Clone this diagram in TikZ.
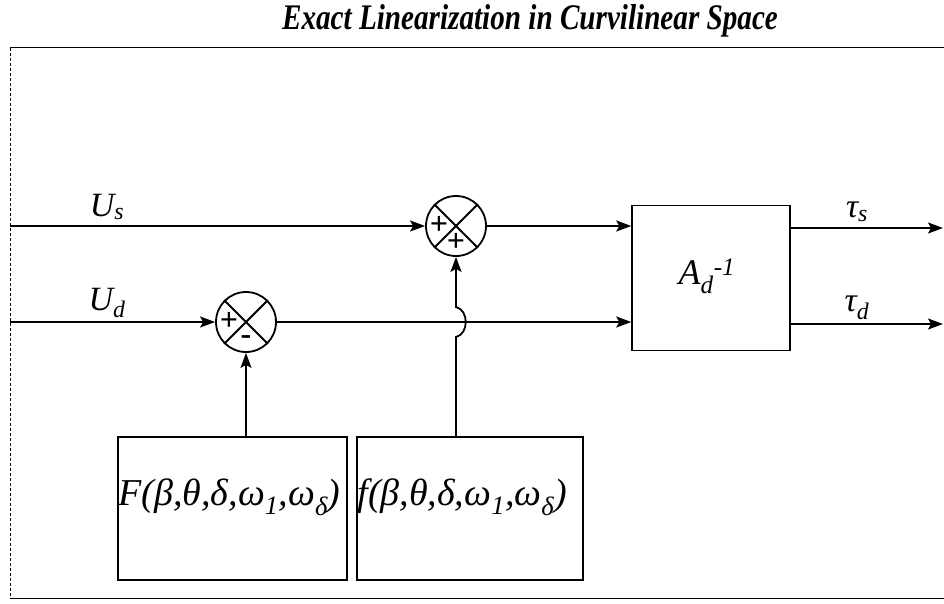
\documentclass[tikz,border=0pt]{standalone}
\usepackage{fontspec}
\setmainfont{Liberation Serif}
\usetikzlibrary{positioning,arrows.meta,calc}

\begin{document}
\begin{tikzpicture}[
    x=1pt, y=-1pt,
    font=\itshape,
    wire/.style={line width=1.8pt},
    sig/.style={wire, -{Stealth[length=15pt,width=11pt,inset=3pt]}},
    blk/.style={draw, line width=1.5pt, inner sep=0pt},
    sumnode/.style={draw, circle, line width=1.8pt, minimum size=60pt, inner sep=0pt},
    lbl/.style={font=\fontsize{34}{34}\selectfont\itshape},
    fn/.style={font=\fontsize{38}{38}\selectfont\itshape, inner sep=1pt},
    sgn/.style={font=\fontsize{32}{32}\selectfont\upshape\bfseries, inner sep=0pt}
  ]
  \useasboundingbox (0,0) rectangle (944,604);

  % title and frame
  \node[font=\fontsize{36}{36}\selectfont\bfseries\itshape] (title) at (530,21)
    {\scalebox{0.81}[1]{Exact Linearization in Curvilinear Space}};
  \draw[line width=1pt] (944,48) -- (10,48);
  \draw[line width=1pt, densely dashed] (10,48) -- (10,598);
  \draw[line width=1pt] (10,598) -- (944,598);

  % summing junctions
  \node[sumnode] (sumD) at (246,322) {};
  \node[sumnode] (sumS) at (456,226) {};
  \foreach \s in {sumD,sumS}
    \draw[wire] (\s.45) -- (\s.225) (\s.135) -- (\s.315);
  \node[sgn] at ([xshift=-17pt,yshift=1pt]sumD.center) {+};
  \node[sgn] at ([yshift=-18pt]sumD.center) {-};
  \node[sgn] at ([xshift=-17pt,yshift=1pt]sumS.center) {+};
  \node[sgn] at ([yshift=-16pt]sumS.center) {+};

  % blocks
  \node[blk, minimum width=158pt, minimum height=145pt] (inv) at (711,278) {};
  \node[font=\fontsize{36}{36}\selectfont\itshape] (invtxt) at ([xshift=-4pt,yshift=2pt]inv.center)
    {A\textsubscript{d}\textsuperscript{-1}};
  \node[blk, minimum width=229pt, minimum height=143pt] (Fbox) at (232.5,508.5) {};
  \node[blk, minimum width=226pt, minimum height=143pt] (fbox) at (470,508.5) {};
  \node[fn, anchor=west] (Ftxt) at ([yshift=11pt]Fbox.west)
    {F(β,θ,δ,ω\textsubscript{1},ω\textsubscript{δ})};
  \node[fn, anchor=west] (ftxt) at ([yshift=11pt]fbox.west)
    {f(β,θ,δ,ω\textsubscript{1},ω\textsubscript{δ})};

  % inputs and outputs
  \coordinate (inS) at (10,226);
  \coordinate (inD) at (10,322);
  \coordinate (outS) at (943,228);
  \coordinate (outD) at (943,324);
  \coordinate (hop) at (sumS |- sumD);

  \draw[sig] (inS) -- (sumS);
  \draw[sig] (inD) -- (sumD);
  \draw[sig] (sumS.east) -- (sumS.east -| inv.west);
  \draw[sig] (sumD.east) -- (sumD.east -| inv.west);
  \draw[sig] (inv.east |- outS) -- (outS);
  \draw[sig] (inv.east |- outD) -- (outD);
  \draw[sig] (sumD |- Fbox.north) -- (sumD.south);
  \draw[sig] (sumS |- fbox.north) -- ($(hop)+(0,15)$)
    .. controls +(13,-3) and +(13,3) .. ($(hop)+(0,-15)$) -- (sumS.south);

  % signal labels
  \node[lbl] (lUs) at (107,207) {U\textsubscript{s}};
  \node[lbl] (lUd) at (107,303) {U\textsubscript{d}};
  \node[lbl] (lts) at (857,212) {τ\textsubscript{s}};
  \node[lbl] (ltd) at (857,308) {τ\textsubscript{d}};
\end{tikzpicture}
\end{document}
